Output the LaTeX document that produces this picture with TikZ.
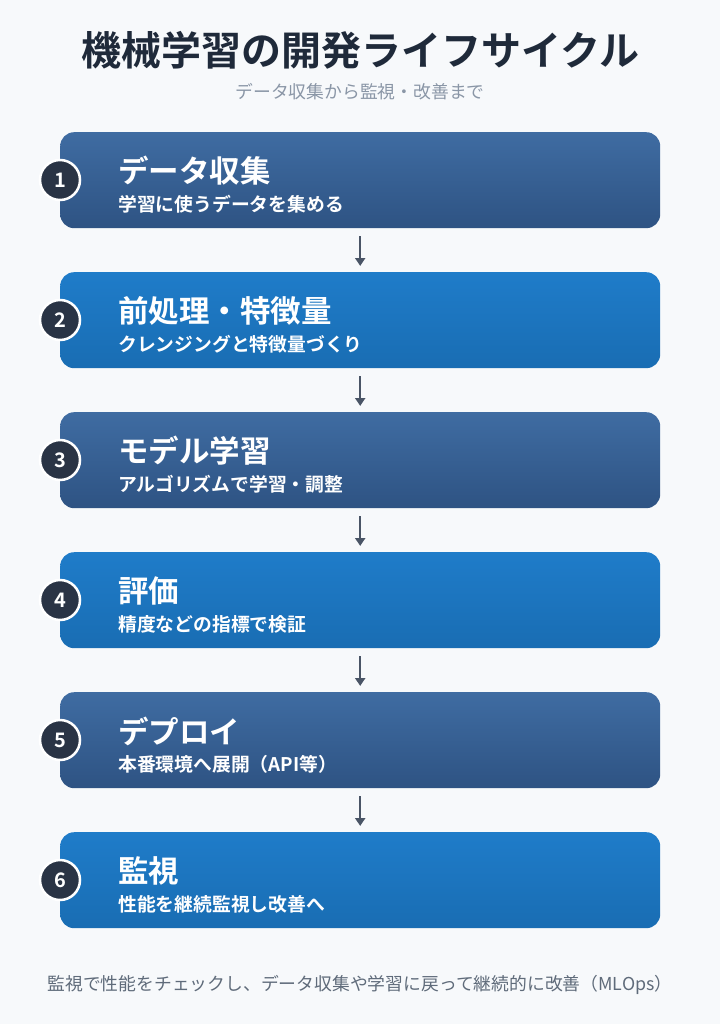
\documentclass[tikz,border=0pt]{standalone}
\usepackage{fontspec}
\setmainfont{Noto Sans CJK JP}[BoldFont={Noto Sans CJK JP Bold}]
\usetikzlibrary{arrows.meta}
\definecolor{bg}{HTML}{F7F9FB}
\definecolor{titlec}{HTML}{1F2A3A}
\definecolor{grayc}{HTML}{8A96A6}
\definecolor{footc}{HTML}{5F6B7A}
\definecolor{darkA}{HTML}{3F6CA2}
\definecolor{darkB}{HTML}{2E5383}
\definecolor{blueA}{HTML}{1F7CC9}
\definecolor{blueB}{HTML}{196DB3}
\definecolor{circ}{HTML}{2A3445}
\definecolor{arr}{HTML}{4A5566}
\begin{document}
\begin{tikzpicture}[x=1pt,y=-1pt,
  stepA/.style={rounded corners=14pt,top color=darkA,bottom color=darkB,draw=none},
  stepB/.style={rounded corners=14pt,top color=blueA,bottom color=blueB,draw=none},
  num/.style={circle,fill=circ,draw=white,line width=2.5pt,minimum size=40pt,inner sep=0pt,text=white,font=\bfseries\fontsize{20}{20}\selectfont},
  ttl/.style={anchor=west,text=white,font=\bfseries\fontsize{30.5}{32}\selectfont,inner sep=0pt},
  sub/.style={anchor=west,text=white,font=\bfseries\fontsize{18.8}{20}\selectfont,inner sep=0pt},
  conn/.style={draw=arr,line width=2pt,-{Triangle[length=8pt,width=10pt]}}]
\fill[bg] (0,0) rectangle (720,1024);
\useasboundingbox (0,0) rectangle (720,1024);
\node[font=\bfseries\fontsize{40}{44}\selectfont,text=titlec] (title) at (360,50) {機械学習の開発ライフサイクル};
\node[font=\fontsize{17.8}{20}\selectfont,text=grayc] (subtitle) at (360,92) {データ収集から監視・改善まで};
\foreach \i/\t/\s/\st in {1/データ収集/学習に使うデータを集める/stepA,
  2/前処理・特徴量/クレンジングと特徴量づくり/stepB,
  3/モデル学習/アルゴリズムで学習・調整/stepA,
  4/評価/精度などの指標で検証/stepB,
  5/デプロイ/本番環境へ展開（API等）/stepA,
  6/監視/性能を継続監視し改善へ/stepB}{
  \pgfmathsetmacro{\yt}{132+140*(\i-1)}
  \node[\st,minimum width=600pt,minimum height=96pt,anchor=north west] (box\i) at (60,\yt) {};
  \node[ttl] (t\i) at (118,\yt+39) {\t};
  \node[sub] (s\i) at (118,\yt+72) {\s};
  \node[num] (n\i) at (60,\yt+48) {\i};
}
\foreach \i [evaluate=\i as \j using int(\i+1)] in {1,...,5}{
  \draw[conn] ([yshift=-8pt]box\i.south) -- ([yshift=6pt]box\j.north);
}
\node[font=\fontsize{17.8}{20}\selectfont,text=footc] (foot) at (360,985) {監視で性能をチェックし、データ収集や学習に戻って継続的に改善（MLOps）};
\end{tikzpicture}
\end{document}
